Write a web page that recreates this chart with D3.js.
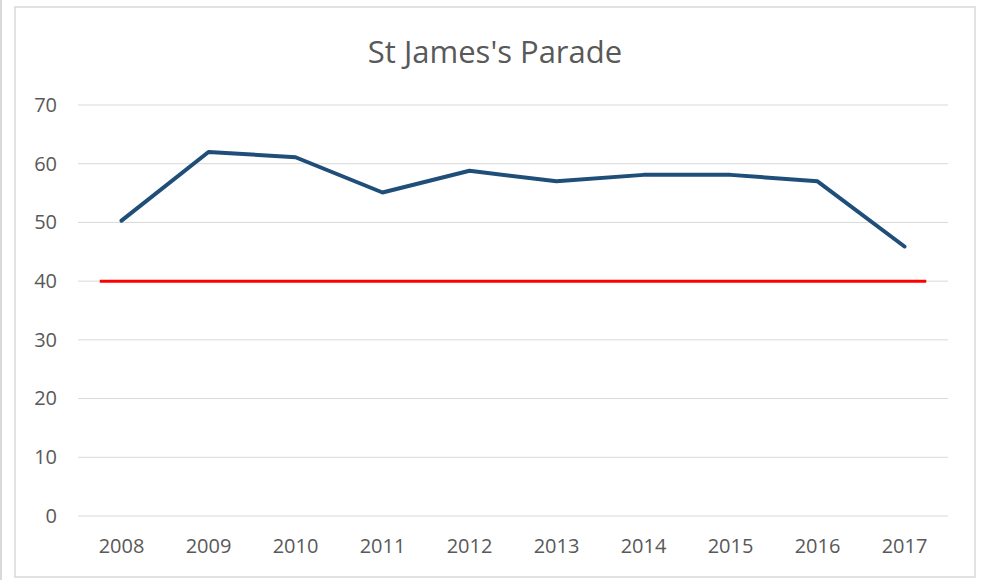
<!DOCTYPE html>
<html>
<head>
<meta charset="utf-8">
<script src="https://cdn.jsdelivr.net/npm/d3@7"></script>
<style>
  body { margin: 0; background: #fff; }
  svg { display: block; font-family: "Open Sans", "Noto Sans", sans-serif; }
</style>
</head>
<body>
<svg id="chart" width="983" height="580"></svg>
<script>
const title = "St James's Parade";
const years = ["2008", "2009", "2010", "2011", "2012", "2013", "2014", "2015", "2016", "2017"];
const values = [50.3, 62, 61.1, 55.1, 58.8, 57, 58.1, 58.1, 57, 45.9];
const limitValue = 40;
const yTicks = [0, 10, 20, 30, 40, 50, 60, 70];

const width = 983, height = 580;
const plot = { left: 78, right: 948, top: 105, bottom: 516 };
const labelFont = "\"Open Sans\", \"Noto Sans\", sans-serif";

const svg = d3.select("#chart");

// outer frame
svg.append("line")
    .attr("x1", 1).attr("x2", 1).attr("y1", 0).attr("y2", height)
    .attr("stroke", "#d9d9d9").attr("stroke-width", 2);
svg.append("rect")
    .attr("x", 15).attr("y", 7)
    .attr("width", 960).attr("height", 570)
    .attr("fill", "#fff")
    .attr("stroke", "#d9d9d9").attr("stroke-width", 1.5);

const x = d3.scaleBand()
    .domain(years)
    .range([plot.left, plot.right]);

const y = d3.scaleLinear()
    .domain([0, 70])
    .range([plot.bottom, plot.top]);

// gridlines
svg.append("g")
    .selectAll("line")
    .data(yTicks)
    .join("line")
    .attr("x1", plot.left).attr("x2", plot.right)
    .attr("y1", d => y(d)).attr("y2", d => y(d))
    .attr("stroke", "#d9d9d9").attr("stroke-width", 1);

// y axis labels
const yAxis = d3.axisLeft(y).tickValues(yTicks).tickSize(0).tickPadding(21);
svg.append("g")
    .attr("transform", `translate(${plot.left},0)`)
    .call(yAxis)
    .call(g => g.select(".domain").remove())
    .selectAll("text")
    .attr("font-size", 20)
    .attr("fill", "#595959")
    .attr("font-family", labelFont);

// x axis labels
const xAxis = d3.axisBottom(x).tickSize(0).tickPadding(23);
svg.append("g")
    .attr("transform", `translate(0,${plot.bottom})`)
    .call(xAxis)
    .call(g => g.select(".domain").remove())
    .selectAll("text")
    .attr("font-size", 20)
    .attr("fill", "#595959")
    .attr("font-family", labelFont);

// limit line
const cx = d => x(d) + x.bandwidth() / 2;
const pad = x.bandwidth() * 0.25;
svg.append("line")
    .attr("x1", cx(years[0]) - pad)
    .attr("x2", cx(years[years.length - 1]) + pad)
    .attr("y1", y(limitValue)).attr("y2", y(limitValue))
    .attr("stroke", "#ff0000").attr("stroke-width", 3);

// series line
const line = d3.line()
    .x((d, i) => cx(years[i]))
    .y(d => y(d));

svg.append("path")
    .datum(values)
    .attr("fill", "none")
    .attr("stroke", "#1f4e79")
    .attr("stroke-width", 4)
    .attr("stroke-linejoin", "round")
    .attr("stroke-linecap", "round")
    .attr("d", line);

// title
svg.append("text")
    .attr("x", 495).attr("y", 63)
    .attr("text-anchor", "middle")
    .attr("font-size", 31)
    .attr("fill", "#595959")
    .text(title);
</script>
</body>
</html>
